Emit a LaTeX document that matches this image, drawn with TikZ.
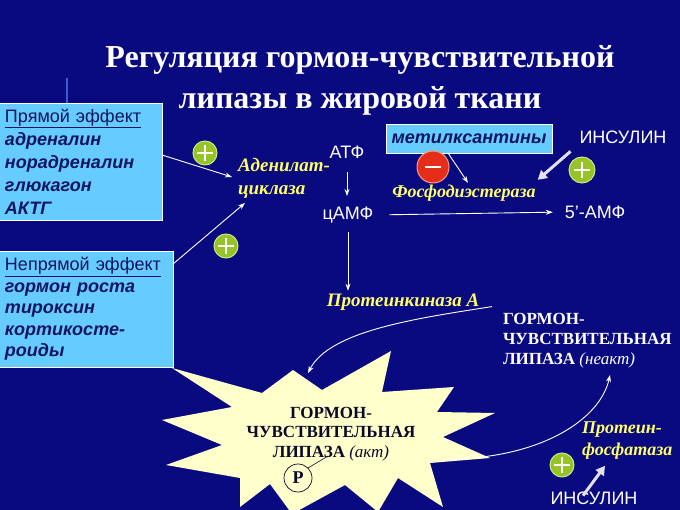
\documentclass[tikz,border=0pt]{standalone}
\usepackage{fontspec}
\setmainfont{Liberation Serif}
\newfontfamily\arial{Liberation Sans}
\usetikzlibrary{arrows.meta}
\definecolor{bg}{RGB}{10,10,128}
\definecolor{boxblue}{RGB}{102,204,255}
\definecolor{navytext}{RGB}{15,20,95}
\definecolor{ylw}{RGB}{255,255,102}
\definecolor{plusgreen}{RGB}{150,195,40}
\definecolor{plusring}{RGB}{205,230,130}
\definecolor{minusred}{RGB}{230,45,25}
\definecolor{minusring}{RGB}{250,160,130}
\definecolor{cream}{RGB}{255,255,204}
\definecolor{startext}{RGB}{10,10,40}
\definecolor{thickarr}{RGB}{225,225,240}
\tikzset{
  every node/.style={inner sep=0pt, outer sep=0pt},
  titletext/.style={text=white, font=\bfseries\fontsize{32}{36}\selectfont},
  wtext/.style={text=white, font=\arial\fontsize{18}{20}\selectfont},
  ytext/.style={text=ylw, font=\bfseries\itshape\fontsize{19}{23}\selectfont},
  sidebox/.style={draw=white, line width=0.8pt, fill=boxblue, text=navytext, align=left,
    inner xsep=7pt, anchor=north west, minimum width=164pt, text width=150pt},
  lipase/.style={font=\bfseries\fontsize{17}{20}\selectfont},
  arr/.style={draw=white, line width=0.9pt, -{Stealth[length=7pt,width=5pt]}},
  bigarr/.style={draw=thickarr, line width=3pt, -{Triangle[length=9pt,width=10pt]}},
  plus/.style={circle, fill=plusgreen, draw=plusring, line width=1pt, minimum size=#1,
    path picture={
      \draw[white, line width=1.6pt]
        ([xshift=-0.32*#1]path picture bounding box.center) -- ([xshift=0.32*#1]path picture bounding box.center)
        ([yshift=-0.32*#1]path picture bounding box.center) -- ([yshift=0.32*#1]path picture bounding box.center);}},
  minus/.style={circle, fill=minusred, draw=minusring, line width=1pt, minimum size=32pt,
    path picture={
      \draw[white, line width=2.2pt]
        ([xshift=-8pt]path picture bounding box.center) -- ([xshift=8pt]path picture bounding box.center);}},
}
\begin{document}
\begin{tikzpicture}[x=1pt,y=-1pt]
\useasboundingbox (0,0) rectangle (680,510);
\fill[bg] (0,0) rectangle (680,510);
\draw[color={rgb,255:red,60;green,90;blue,210}, line width=1.5pt] (67,78) -- (67,112);

% star (active lipase)
\begin{scope}
\clip (0,0) rectangle (680,510);
\fill[cream] (172,368) -- (262,393) -- (293,370) -- (322,390) -- (391,351) -- (382,392)
  -- (454,387) -- (437,412) -- (495,413) -- (443,437) -- (490,458) -- (430,463)
  -- (443,507) -- (398,478) -- (378,512) -- (345,485) -- (292,514) -- (270,484)
  -- (240,507) -- (240,478) -- (166,465) -- (222,445) -- (162,420) -- (232,407) -- cycle;
\end{scope}

% title
\node[titletext, anchor=base] (title1) at (360,68) {Регуляция гормон-чувствительной};
\node[titletext, anchor=base] (title2) at (360,109) {липазы в жировой ткани};

% side boxes
\node[sidebox, minimum height=117pt, font=\arial\fontsize{18}{23}\selectfont] (box1) at (-2,103)
  {\underline{Прямой эффект}\\ {\bfseries\itshape адреналин}\\ {\bfseries\itshape норадреналин}\\ {\bfseries\itshape глюкагон}\\ {\bfseries\itshape АКТГ}};
\node[sidebox, minimum width=175pt, text width=161pt, minimum height=116pt, font=\arial\fontsize{18}{21.5}\selectfont] (box2) at (-2,251)
  {\underline{Непрямой эффект}\\ {\bfseries\itshape гормон роста}\\ {\bfseries\itshape тироксин}\\ {\bfseries\itshape кортикосте-}\\ {\bfseries\itshape роиды}};

% enzymes and metabolites
\node[ytext, align=left, anchor=west] (adc) at (238,178.5) {Аденилат-\\циклаза};
\node[wtext] (atf) at (347,152) {АТФ};
\node[wtext] (camp) at (348,215) {цАМФ};
\node[wtext] (amp5) at (595,212) {5’-АМФ};
\node[ytext, font=\bfseries\itshape\fontsize{18}{22}\selectfont] (pde) at (464,193) {Фосфодиэстераза};
\node[ytext] (pka) at (403,302) {Протеинкиназа А};
\node[draw=white, line width=0.8pt, fill=boxblue, text=navytext, minimum width=166pt, minimum height=29pt,
  font=\arial\bfseries\itshape\fontsize{18}{20}\selectfont] (mx) at (469,138.5) {метилксантины};
\node[wtext] (ins1) at (623,137) {ИНСУЛИН};
\node[wtext] (ins2) at (594,498) {ИНСУЛИН};
\node[ytext, align=left, anchor=west, font=\bfseries\itshape\fontsize{18}{22}\selectfont] (pp) at (582,441) {Протеин-\\фосфатаза};

% lipase texts
\node[lipase, text=white, align=left, anchor=west] (hsl0) at (503,341)
  {ГОРМОН-\\ЧУВСТВИТЕЛЬНАЯ\\ЛИПАЗА {\mdseries\itshape(неакт)}};
\node[lipase, text=startext, align=center, font=\bfseries\fontsize{17}{19.5}\selectfont] (hsl1) at (331,434)
  {ГОРМОН-\\ЧУВСТВИТЕЛЬНАЯ\\ЛИПАЗА {\mdseries\itshape(акт)}};
\node[circle, draw=startext, line width=0.7pt, minimum size=28pt, text=startext,
  font=\bfseries\fontsize{18}{20}\selectfont] (phos) at (298,478) {Р};
\coordinate (phostip) at (328,456);
\draw[startext, line width=0.6pt] (phos.45) -- (phostip);

% plus / minus signs
\node[plus=24pt] (p1) at (205,153) {};
\node[plus=24pt] (p2) at (226,246) {};
\node[plus=26pt] (p3) at (582,170) {};
\node[plus=24pt] (p4) at (562,465) {};
\node[minus] (m1) at (433,167) {};

% connectors
\coordinate (b1out) at (162,155);
\coordinate (b2out) at (173,264);
\coordinate (adcin1) at (232,177);
\coordinate (adcin2) at (245,203);
\draw[arr] (b1out) -- (adcin1);
\draw[arr] (b2out) -- (adcin2);
\draw[arr, shorten <=14pt, shorten >=11pt] (atf.south) -- (atf.south |- camp.north);
\draw[arr, shorten <=9pt, shorten >=3pt] (camp.south) -- (camp.south |- pka.north);
\draw[arr, shorten <=16pt, shorten >=12pt] (camp.east) -- (amp5.west);
\draw[arr] ([xshift=-21pt]mx.south) -- ([xshift=4pt,yshift=2pt]pde.north);
\draw[bigarr] ([xshift=-9pt,yshift=-8pt]ins1.south west) -- ([xshift=2pt,yshift=5pt]pde.north east);
\draw[bigarr] ([xshift=-11pt,yshift=-4pt]ins2.north) -- ([xshift=23pt,yshift=-6pt]pp.south west);

\coordinate (hslaTop) at (308,373);
\coordinate (hslaRight) at (450,459);
\coordinate (hsl0Bottom) at (610,375);
\draw[arr] ([xshift=-11pt,yshift=7pt]hsl0.north west) .. controls (420,318) and (330,330) .. (hslaTop);
\draw[arr] (hslaRight) .. controls (540,458) and (600,420) .. (hsl0Bottom);
\end{tikzpicture}
\end{document}
